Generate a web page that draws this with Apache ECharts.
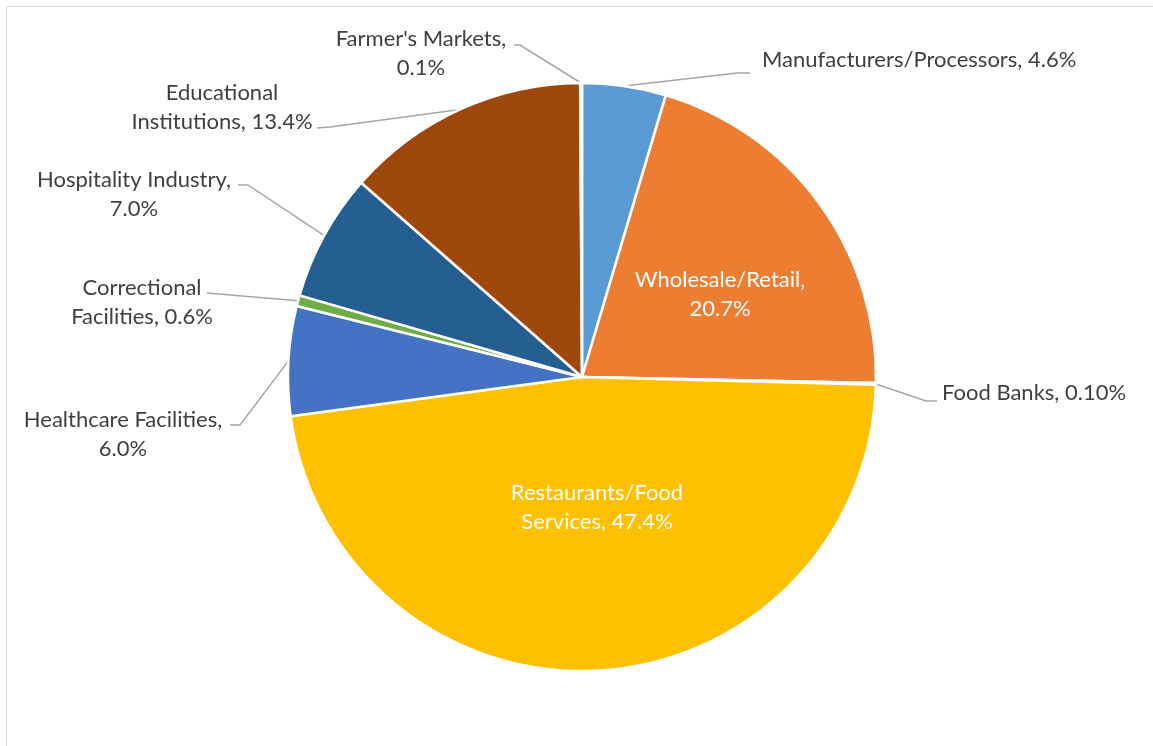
<!DOCTYPE html>
<html>
<head>
<meta charset="utf-8">
<script src="https://cdn.jsdelivr.net/npm/echarts@6/dist/echarts.min.js"></script>
<style>
  html, body { margin: 0; padding: 0; background: #fff; }
  #chart { width: 1153px; height: 746px; }
</style>
</head>
<body>
<div id="chart"></div>
<script>
// clockwise from 12 o'clock
const categories = ['Manufacturers/Processors', 'Wholesale/Retail', 'Food Banks', 'Restaurants/Food Services',
  'Healthcare Facilities', 'Correctional Facilities', 'Hospitality Industry', 'Educational Institutions', "Farmer's Markets"];
const shares = [4.6, 20.7, 0.1, 47.4, 6.0, 0.6, 7.0, 13.4, 0.1];
const shareLabels = ['4.6%', '20.7%', '0.10%', '47.4%', '6.0%', '0.6%', '7.0%', '13.4%', '0.1%'];
const labelText = [
  'Manufacturers/Processors, 4.6%',
  'Wholesale/Retail,\n20.7%',
  'Food Banks, 0.10%',
  'Restaurants/Food\nServices, 47.4%',
  'Healthcare Facilities,\n6.0%',
  'Correctional\nFacilities, 0.6%',
  'Hospitality Industry,\n7.0%',
  'Educational\nInstitutions, 13.4%',
  "Farmer's Markets,\n0.1%"
];
const colors = ['#5B9BD5', '#ED7D31', '#A5A5A5', '#FFC000', '#4472C4', '#70AD47', '#255E91', '#9E480E', '#636363'];
const insideSlices = [1, 3];

const cx = 582, cy = 377, R = 294;

// where each label sits: [x, y, align] and the elbow points of its leader line
const labelPos = [
  [762, 60, 'left'],
  [720, 294, 'center'],
  [942, 393, 'left'],
  [597, 507, 'center'],
  [123, 434, 'center'],
  [142, 302, 'center'],
  [134, 194, 'center'],
  [222, 107, 'center'],
  [421, 53, 'center']
];
const elbows = [
  [[737, 73], [750, 73]],
  null,
  [[926, 401], [937, 401]],
  null,
  [[240, 425], [230, 425]],
  [[207, 293]],
  [[248, 185], [238, 185]],
  [[330, 127], [317, 128]],
  [[520, 45], [514, 45]]
];

const total = shares.reduce((a, b) => a + b, 0);
function anchorOf(i) {
  let before = 0;
  for (let k = 0; k < i; k++) before += shares[k];
  const frac = (before + shares[i] / 2) / total;
  const a = frac * 2 * Math.PI;
  return [cx + R * Math.sin(a), cy - R * Math.cos(a)];
}

const chart = echarts.init(document.getElementById('chart'));
const option = {
  animation: false,
  graphic: [{
    type: 'rect',
    shape: { x: 6.5, y: 6.5, width: 1300, height: 900 },
    style: { fill: 'none', stroke: '#d9d9d9', lineWidth: 1 },
    z: -1
  }],
  series: [{
    type: 'pie',
    center: [cx, cy],
    radius: R,
    startAngle: 90,
    clockwise: true,
    minAngle: 0,
    avoidLabelOverlap: false,
    itemStyle: { borderColor: '#fff', borderWidth: 2.5 },
    label: {
      show: true,
      position: 'outside',
      fontFamily: 'Lato',
      fontSize: 22,
      lineHeight: 29,
      color: '#404040',
      formatter: p => labelText[p.dataIndex]
    },
    labelLine: {
      show: true,
      lineStyle: { color: '#a6a6a6', width: 1.5 }
    },
    labelLayout: p => {
      const i = p.dataIndex;
      const pos = labelPos[i];
      const out = { x: pos[0], y: pos[1], align: pos[2], verticalAlign: 'middle' };
      if (elbows[i]) out.labelLinePoints = [anchorOf(i)].concat(elbows[i]);
      return out;
    },
    data: categories.map((name, i) => {
      const item = { name: name, value: shares[i], itemStyle: { color: colors[i] } };
      if (insideSlices.includes(i)) {
        item.label = { color: '#fff' };
        item.labelLine = { show: false };
      }
      return item;
    })
  }]
};
chart.setOption(option);
</script>
</body>
</html>
